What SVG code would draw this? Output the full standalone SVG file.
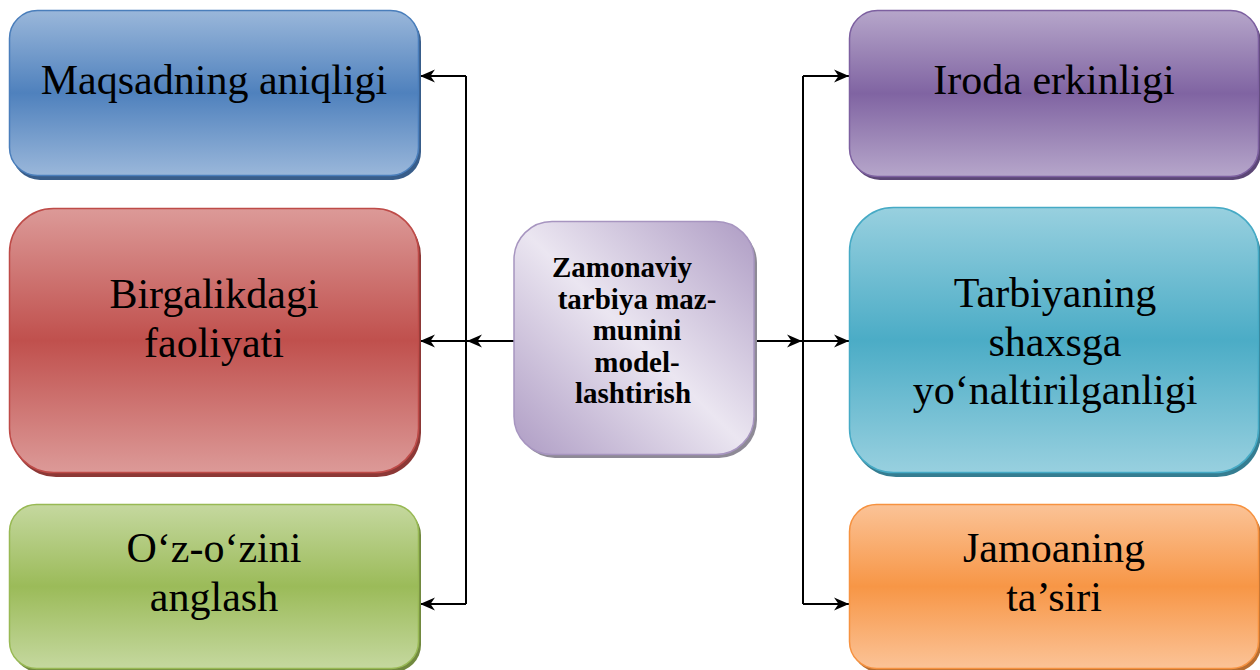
<svg xmlns="http://www.w3.org/2000/svg" width="1260" height="670" viewBox="0 0 1260 670">
<defs>
<linearGradient id="gBlue" x1="0" y1="0" x2="0" y2="1"><stop offset="0" stop-color="#9ab7da"/><stop offset="0.5" stop-color="#4f81bd"/><stop offset="1" stop-color="#9ab7da"/></linearGradient>
<linearGradient id="gRed" x1="0" y1="0" x2="0" y2="1"><stop offset="0" stop-color="#dc9a98"/><stop offset="0.5" stop-color="#c0504d"/><stop offset="1" stop-color="#dc9a98"/></linearGradient>
<linearGradient id="gGreen" x1="0" y1="0" x2="0" y2="1"><stop offset="0" stop-color="#c5d89f"/><stop offset="0.5" stop-color="#9bbb59"/><stop offset="1" stop-color="#c5d89f"/></linearGradient>
<linearGradient id="gPurple" x1="0" y1="0" x2="0" y2="1"><stop offset="0" stop-color="#b6a6ca"/><stop offset="0.5" stop-color="#8064a2"/><stop offset="1" stop-color="#b6a6ca"/></linearGradient>
<linearGradient id="gTeal" x1="0" y1="0" x2="0" y2="1"><stop offset="0" stop-color="#98d0df"/><stop offset="0.5" stop-color="#4bacc6"/><stop offset="1" stop-color="#98d0df"/></linearGradient>
<linearGradient id="gOrange" x1="0" y1="0" x2="0" y2="1"><stop offset="0" stop-color="#fbc397"/><stop offset="0.5" stop-color="#f79646"/><stop offset="1" stop-color="#fbc397"/></linearGradient>
<linearGradient id="gCenter" x1="0" y1="1" x2="1" y2="0"><stop offset="0" stop-color="#ae9cc4"/><stop offset="0.5" stop-color="#ebe6f1"/><stop offset="1" stop-color="#ae9cc4"/></linearGradient>
<marker id="arr" markerUnits="userSpaceOnUse" markerWidth="16" markerHeight="14" refX="15" refY="7" orient="auto">
<path d="M0,0.5 L15,7 L0,13.5 L4.5,7 Z" fill="#000"/>
</marker>
</defs>
<style>
.big{font-family:"Liberation Serif","Times New Roman",serif;font-size:42px;fill:#000;text-anchor:middle}
.ctr{font-family:"Liberation Serif","Times New Roman",serif;font-size:29px;font-weight:bold;fill:#000;text-anchor:middle}
.conn{stroke:#000;stroke-width:2;fill:none}
</style>

<g id="connectors">
<line class="conn" x1="466" y1="76" x2="466" y2="604"/>
<line class="conn" x1="466" y1="76" x2="420" y2="76" marker-end="url(#arr)"/>
<line class="conn" x1="466" y1="341" x2="420" y2="341" marker-end="url(#arr)"/>
<line class="conn" x1="466" y1="604" x2="420" y2="604" marker-end="url(#arr)"/>
<line class="conn" x1="514" y1="341" x2="467" y2="341" marker-end="url(#arr)"/>
<line class="conn" x1="754" y1="341" x2="802" y2="341" marker-end="url(#arr)"/>
<line class="conn" x1="803" y1="76" x2="803" y2="604"/>
<line class="conn" x1="803" y1="76" x2="849" y2="76" marker-end="url(#arr)"/>
<line class="conn" x1="803" y1="341" x2="849" y2="341" marker-end="url(#arr)"/>
<line class="conn" x1="803" y1="604" x2="849" y2="604" marker-end="url(#arr)"/>
</g>

<g id="node-maqsad">
<rect x="12" y="14" width="409" height="166" rx="28" fill="#385d8a"/>
<rect x="9.5" y="10.5" width="409" height="165" rx="28" fill="url(#gBlue)" stroke="#4a7ebb" stroke-width="1.5"/>
<text class="big" x="214" y="94">Maqsadning aniqligi</text>
</g>

<g id="node-birgalik">
<rect x="12" y="212" width="409" height="265" rx="44" fill="#8c3836"/>
<rect x="9.5" y="208.5" width="409" height="264" rx="44" fill="url(#gRed)" stroke="#be4b48" stroke-width="1.5"/>
<text class="big" x="214" y="308">Birgalikdagi</text>
<text class="big" x="214" y="357">faoliyati</text>
</g>

<g id="node-ozozini">
<rect x="12" y="508" width="409" height="164" rx="27" fill="#71893f"/>
<rect x="9.5" y="504.5" width="409" height="164" rx="27" fill="url(#gGreen)" stroke="#98b954" stroke-width="1.5"/>
<text class="big" x="214" y="562">O‘z-o‘zini</text>
<text class="big" x="214" y="611">anglash</text>
</g>

<g id="node-center">
<rect x="517" y="225" width="240" height="233" rx="38" fill="#8e8a96"/>
<rect x="514" y="221.5" width="240" height="233" rx="38" fill="url(#gCenter)" stroke="#a795c0" stroke-width="1.5"/>
<text class="ctr" x="622" y="277">Zamonaviy</text>
<text class="ctr" x="637" y="308.5">tarbiya maz-</text>
<text class="ctr" x="637" y="340">munini</text>
<text class="ctr" x="637" y="371.5">model-</text>
<text class="ctr" x="633" y="403">lashtirish</text>
</g>

<g id="node-iroda">
<rect x="852" y="14" width="409" height="166" rx="28" fill="#5c4776"/>
<rect x="849.5" y="10.5" width="409" height="166" rx="28" fill="url(#gPurple)" stroke="#7d60a0" stroke-width="1.5"/>
<text class="big" x="1054" y="94">Iroda erkinligi</text>
</g>

<g id="node-tarbiyaning">
<rect x="852" y="212" width="409" height="265" rx="44" fill="#357d91"/>
<rect x="849.5" y="207.5" width="409" height="265" rx="44" fill="url(#gTeal)" stroke="#46aac5" stroke-width="1.5"/>
<text class="big" x="1055" y="307">Tarbiyaning</text>
<text class="big" x="1055" y="356">shaxsga</text>
<text class="big" x="1055" y="404">yo‘naltirilganligi</text>
</g>

<g id="node-jamoa">
<rect x="852" y="508" width="409" height="164" rx="27" fill="#b66d31"/>
<rect x="849.5" y="504.5" width="409" height="164" rx="27" fill="url(#gOrange)" stroke="#f69240" stroke-width="1.5"/>
<text class="big" x="1054" y="562">Jamoaning</text>
<text class="big" x="1054" y="611">ta’siri</text>
</g>
</svg>
